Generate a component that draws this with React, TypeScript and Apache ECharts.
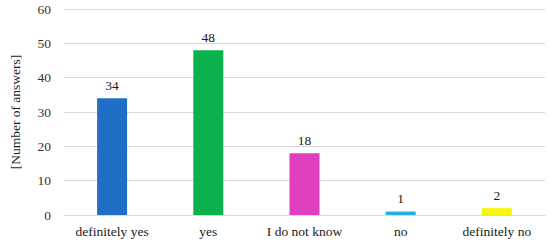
import React, { useEffect, useRef } from "react";
import * as echarts from "echarts";

const categories = ["definitely yes", "yes", "I do not know", "no", "definitely no"];
const values = [34, 48, 18, 1, 2];
const colors = ["#1f6fc6", "#0ab14c", "#e03fbf", "#25ade6", "#f6f60c"];
const yTicks = [0, 10, 20, 30, 40, 50, 60];

export default function App() {
  const ref = useRef<HTMLDivElement>(null);
  useEffect(() => {
    if (!ref.current) return;
    const chart = echarts.init(ref.current, undefined, { renderer: "svg" });
    const font = "Liberation Serif";
    chart.setOption({
      animation: false,
      textStyle: { fontFamily: font },
      grid: { left: 63, right: 5, top: 9, bottom: 31 },
      xAxis: {
        type: "category",
        data: categories,
        axisLine: { lineStyle: { color: "#d9d9d9", width: 1 } },
        axisTick: { show: false },
        axisLabel: { color: "#1a1a1a", fontSize: 13.5, fontFamily: font, margin: 9, interval: 0 },
      },
      yAxis: {
        type: "value",
        min: yTicks[0],
        max: yTicks[yTicks.length - 1],
        interval: 10,
        name: "[Number of answers]",
        nameLocation: "middle",
        nameGap: 42,
        nameTextStyle: { color: "#1a1a1a", fontSize: 13.5, fontFamily: font },
        axisLine: { show: false },
        axisTick: { show: false },
        splitLine: { lineStyle: { color: "#d9d9d9", width: 1 } },
        axisLabel: { color: "#333333", fontSize: 13.5, fontFamily: font, margin: 13 },
      },
      series: [
        {
          type: "bar",
          barWidth: 30,
          data: values.map((v, i) => ({ value: v, itemStyle: { color: colors[i] } })),
          label: {
            show: true,
            position: "top",
            distance: 6,
            color: "#1a1a1a",
            fontSize: 13.5,
            fontFamily: font,
          },
        },
      ],
    });
    return () => chart.dispose();
  }, []);
  return (
    <div
      ref={ref}
      style={{ position: "fixed", left: 0, top: 0, width: 550, height: 246, background: "#fff" }}
    />
  );
}
